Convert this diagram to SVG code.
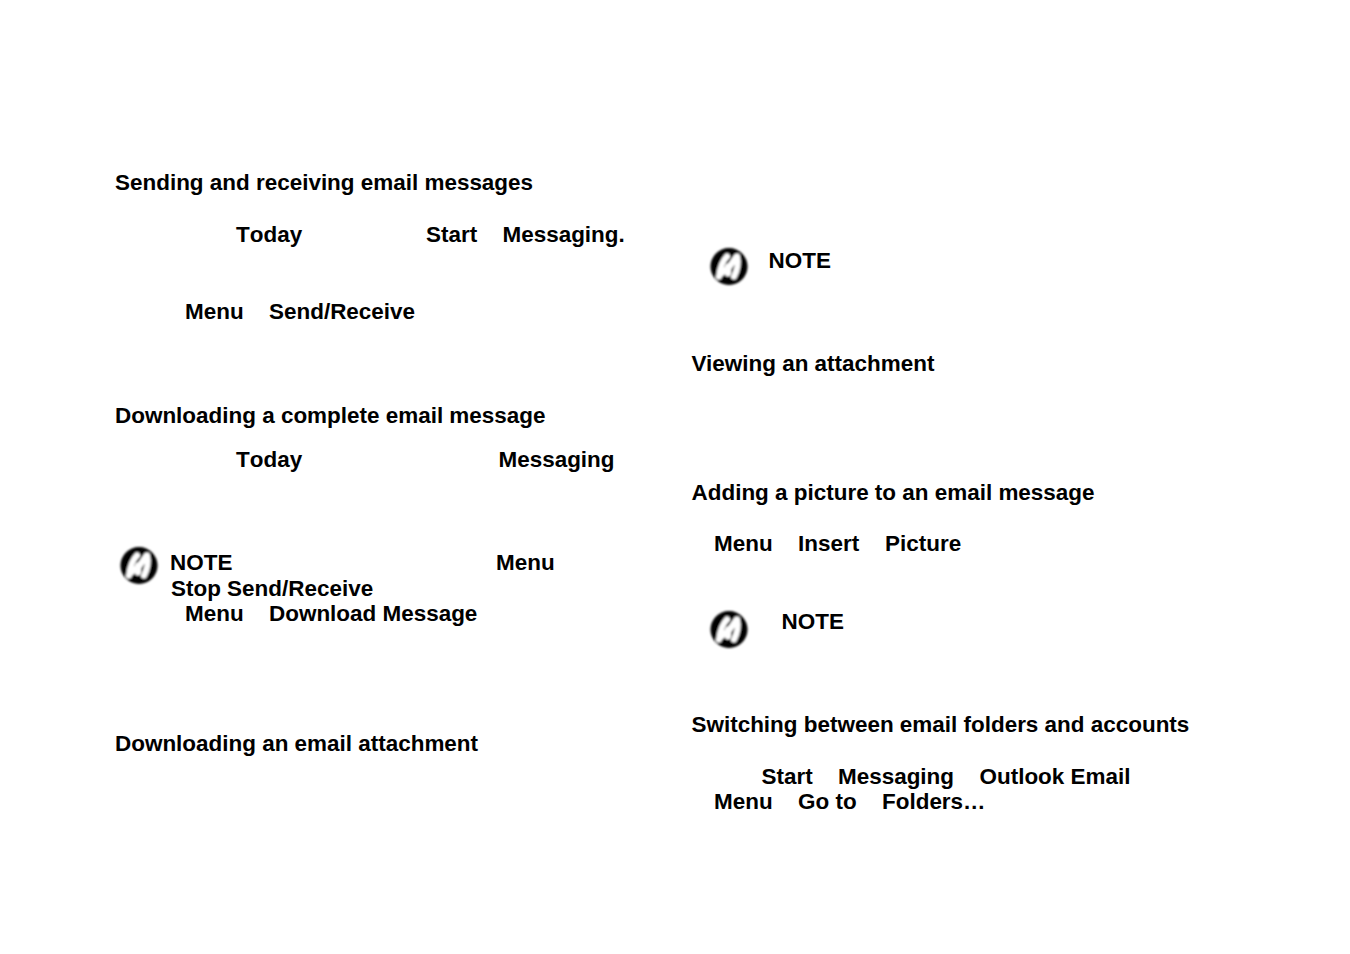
<svg xmlns="http://www.w3.org/2000/svg" width="1350" height="954" viewBox="0 0 1350 954">
<style>text{font-family:"Liberation Sans",Arial,sans-serif;font-weight:bold;font-size:22.46px;fill:#000}.nk{font-kerning:none}</style>
<defs><filter id="soft" x="-20%" y="-20%" width="140%" height="140%"><feGaussianBlur stdDeviation="0.9"/></filter>
<g id="icon" filter="url(#soft)"><circle cx="0" cy="0" r="18.500" fill="#000"/><path d="M-10 10 C-9 2 -6 -6 -2 -10 M-8 7 L0 1 L7 -9 M8 -10 C10 -3 8 4 5 10 M-1 0 L-1 7" fill="none" stroke="#fff" stroke-width="6" stroke-linecap="round"/></g></defs>
<rect width="1350" height="954" fill="#fff"/>
<text x="115" y="189.500">Sending and receiving email messages</text>
<text class="nk" x="236" y="241.500">Today</text>
<text x="426" y="241.500">Start</text>
<text x="502.500" y="241.500">Messaging.</text>
<text x="185" y="318.500">Menu</text>
<text x="269" y="318.500">Send/Receive</text>
<text x="115" y="422.500">Downloading a complete email message</text>
<text class="nk" x="236" y="466.500">Today</text>
<text x="498.500" y="466.500">Messaging</text>
<g id="note-icon-1"><use href="#icon" x="139" y="565.500"/></g>
<text x="170" y="569.500">NOTE</text>
<text x="496" y="569.500">Menu</text>
<text x="171" y="595.500">Stop Send/Receive</text>
<text x="185" y="620.500">Menu</text>
<text x="269" y="620.500">Download Message</text>
<text x="115" y="750.500">Downloading an email attachment</text>
<g id="note-icon-2"><use href="#icon" x="729" y="266.500"/></g>
<text x="768.500" y="267.500">NOTE</text>
<text x="691.500" y="370.500">Viewing an attachment</text>
<text x="691.500" y="499.500">Adding a picture to an email message</text>
<text x="714" y="550.500">Menu</text>
<text x="798" y="550.500">Insert</text>
<text x="885" y="550.500">Picture</text>
<g id="note-icon-3"><use href="#icon" x="729" y="629.500"/></g>
<text x="781.500" y="628.500">NOTE</text>
<text x="691.500" y="731.500">Switching between email folders and accounts</text>
<text x="761.500" y="783.500">Start</text>
<text x="838" y="783.500">Messaging</text>
<text x="979.500" y="783.500">Outlook Email</text>
<text x="714" y="808.500">Menu</text>
<text x="798" y="808.500">Go to</text>
<text x="882" y="808.500">Folders…</text>
</svg>
